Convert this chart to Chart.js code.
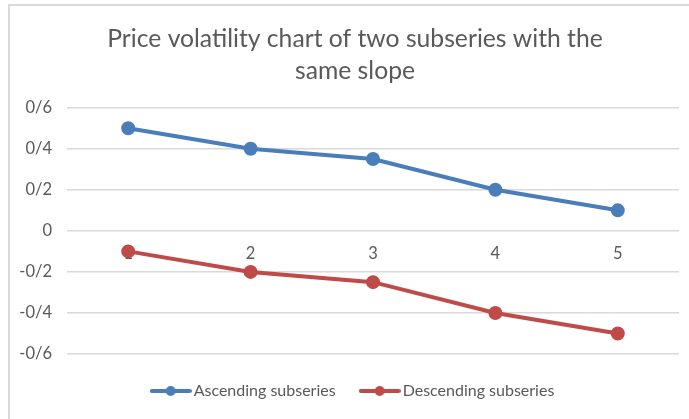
<!DOCTYPE html>
<html>
<head>
<meta charset="utf-8">
<script src="https://cdn.jsdelivr.net/npm/chart.js@4/dist/chart.umd.min.js"></script>
<style>
    html, body { margin: 0; padding: 0; background: #fff; overflow: hidden; }
    #frame {
        position: absolute; left: 8px; top: 4px; width: 720px; height: 440px;
        border: 2px solid #d9d9d9; box-sizing: border-box;
    }
    /* canvas is a bit wider than the window so title and legend centre like the original frame */
    #wrap { position: absolute; left: 0; top: 0; width: 710px; height: 419px; }
</style>
</head>
<body>
<div id="frame"></div>
<div id="wrap"><canvas id="chart"></canvas></div>
<script>
// chart data
const categories = ['1', '2', '3', '4', '5'];
const ascendingValues = [0.5, 0.4, 0.35, 0.2, 0.1];
const descendingValues = [-0.1, -0.2, -0.25, -0.4, -0.5];
const seriesNames = ['Ascending subseries', 'Descending subseries'];
const yTickValues = [-0.6, -0.4, -0.2, 0, 0.2, 0.4, 0.6];
const yTickLabels = ['-0/6', '-0/4', '-0/2', '0', '0/2', '0/4', '0/6'];
const titleLines = ['Price volatility chart of two subseries with the', 'same slope'];

const BLUE = '#4a7ebb';
const RED = '#be4b48';
const FONT = 'Lato, "Open Sans", sans-serif';

// small line + dot image for the legend markers
function legendMarker(color) {
    const c = document.createElement('canvas');
    c.width = 42;
    c.height = 12;
    const g = c.getContext('2d');
    g.strokeStyle = color;
    g.lineWidth = 4;
    g.lineCap = 'round';
    g.beginPath();
    g.moveTo(2, 6);
    g.lineTo(40, 6);
    g.stroke();
    g.fillStyle = color;
    g.beginPath();
    g.arc(21, 6, 5, 0, Math.PI * 2);
    g.fill();
    return c;
}

const markers = [legendMarker(BLUE), legendMarker(RED)];

const ctx = document.getElementById('chart').getContext('2d');
new Chart(ctx, {
    type: 'line',
    data: {
        labels: categories,
        datasets: [
            {
                label: seriesNames[0],
                data: ascendingValues,
                borderColor: BLUE,
                backgroundColor: BLUE,
                borderWidth: 4,
                pointRadius: 5,
                pointHoverRadius: 5
            },
            {
                label: seriesNames[1],
                data: descendingValues,
                borderColor: RED,
                backgroundColor: RED,
                borderWidth: 4,
                pointRadius: 5,
                pointHoverRadius: 5
            }
        ]
    },
    options: {
        responsive: true,
        maintainAspectRatio: false,
        animation: false,
        layout: { padding: { left: 0, right: 0, top: 0, bottom: 10 } },
        plugins: {
            title: {
                display: true,
                text: titleLines,
                color: '#595959',
                font: { family: FONT, size: 24.7, weight: 'normal', lineHeight: 1.31 },
                padding: { top: 23, bottom: 20 }
            },
            legend: {
                position: 'bottom',
                labels: {
                    usePointStyle: true,
                    pointStyleWidth: 30,
                    color: '#595959',
                    font: { family: FONT, size: 16 },
                    padding: 29,
                    generateLabels: (chart) => chart.data.datasets.map((ds, i) => ({
                        text: ds.label,
                        pointStyle: markers[i],
                        fillStyle: ds.borderColor,
                        strokeStyle: ds.borderColor,
                        fontColor: '#595959',
                        lineWidth: 0,
                        hidden: false,
                        datasetIndex: i
                    }))
                }
            },
            tooltip: { enabled: false }
        },
        scales: {
            x: {
                position: { y: 0 },
                offset: true,
                z: 1,
                grid: { display: false },
                border: { display: false },
                ticks: {
                    color: '#595959',
                    font: { family: FONT, size: 16.5 },
                    padding: 5
                }
            },
            y: {
                min: -0.6,
                max: 0.6,
                afterBuildTicks: (scale) => {
                    scale.ticks = yTickValues.map(v => ({ value: v }));
                },
                afterFit: (scale) => { scale.width = 67; },
                grid: { color: '#d9d9d9', lineWidth: 1.5, drawTicks: false },
                border: { display: false },
                ticks: {
                    color: '#595959',
                    font: { family: FONT, size: 16.5 },
                    padding: 15,
                    callback: (value, index) => yTickLabels[index]
                }
            },
            // empty right axis, only reserves the space right of the plot
            yRight: {
                position: 'right',
                min: -0.6,
                max: 0.6,
                afterFit: (scale) => { scale.width = 31; },
                grid: { display: false },
                border: { display: false },
                ticks: { display: false }
            }
        }
    }
});
</script>
</body>
</html>
